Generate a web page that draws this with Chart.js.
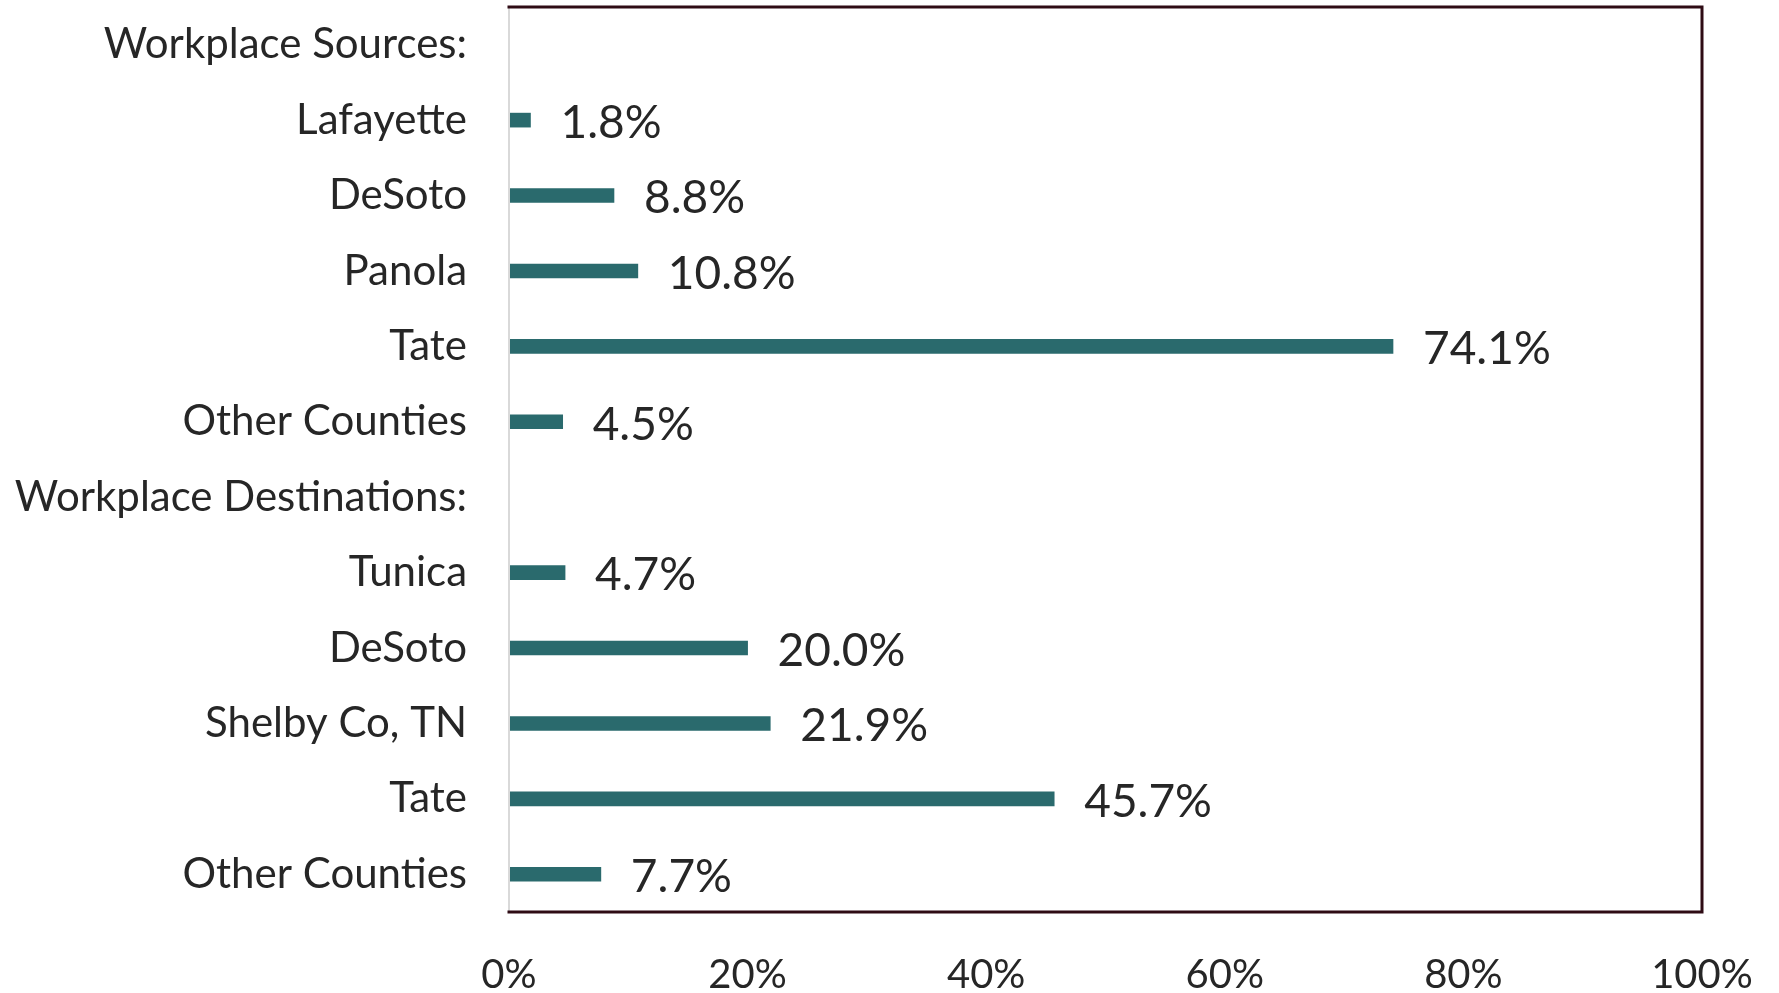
<!DOCTYPE html>
<html>
<head>
<meta charset="utf-8">
<script src="https://cdn.jsdelivr.net/npm/chart.js@4"></script>
<style>
  html, body { margin: 0; padding: 0; background: #fff; }
  #wrap { width: 1779px; height: 993px; }
</style>
</head>
<body>
<div id="wrap"><canvas id="myChart"></canvas></div>
<script>
var labels = [
  "Workplace Sources:",
  "Lafayette",
  "DeSoto",
  "Panola",
  "Tate",
  "Other Counties",
  "Workplace Destinations:",
  "Tunica",
  "DeSoto",
  "Shelby Co, TN",
  "Tate",
  "Other Counties"
];
var shares = [null, 1.8, 8.8, 10.8, 74.1, 4.5, null, 4.7, 20.0, 21.9, 45.7, 7.7];
var xTicks = [0, 20, 40, 60, 80, 100];

var frame = {
  id: "frame",
  afterDatasetsDraw: function (chart) {
    var a = chart.chartArea, c = chart.ctx;
    c.save();
    c.lineCap = "square";
    c.strokeStyle = "#d9d9d9";
    c.lineWidth = 2;
    c.beginPath();
    c.moveTo(a.left, a.top + 2);
    c.lineTo(a.left, a.bottom - 2);
    c.stroke();
    c.strokeStyle = "#2e0b14";
    c.lineWidth = 3;
    c.beginPath();
    c.moveTo(a.left, a.top);
    c.lineTo(a.right, a.top);
    c.lineTo(a.right, a.bottom);
    c.lineTo(a.left, a.bottom);
    c.stroke();
    c.restore();
  }
};

var valueLabels = {
  id: "valueLabels",
  afterDatasetsDraw: function (chart) {
    var c = chart.ctx;
    var meta = chart.getDatasetMeta(0);
    c.save();
    c.font = "46px Lato";
    c.fillStyle = "#262626";
    c.textAlign = "left";
    c.textBaseline = "middle";
    meta.data.forEach(function (bar, i) {
      var v = shares[i];
      if (v === null) return;
      c.fillText(v.toFixed(1) + "%", bar.x + 30, bar.y + 3);
    });
    c.restore();
  }
};

var ctx = document.getElementById("myChart").getContext("2d");
var myChart = new Chart(ctx, {
  type: "bar",
  data: {
    labels: labels,
    datasets: [
      {
        data: shares,
        backgroundColor: "#2a6a6d",
        barThickness: 14
      }
    ]
  },
  plugins: [frame, valueLabels],
  options: {
    indexAxis: "y",
    responsive: true,
    maintainAspectRatio: false,
    animation: false,
    layout: {
      padding: { top: 7, right: 77, bottom: 0, left: 0 }
    },
    plugins: {
      legend: { display: false },
      tooltip: { enabled: false }
    },
    scales: {
      x: {
        min: 0,
        max: 100,
        afterBuildTicks: function (scale) {
          scale.ticks = xTicks.map(function (v) { return { value: v }; });
        },
        afterFit: function (scale) {
          scale.height = 81;
          scale.paddingLeft = 0;
          scale.paddingRight = 0;
        },
        grid: { display: false },
        border: { display: false },
        ticks: {
          padding: 31,
          color: "#262626",
          font: { family: "Lato", size: 40 },
          callback: function (v) { return v + "%"; }
        }
      },
      y: {
        afterFit: function (scale) {
          scale.width = 509;
          scale.paddingTop = 0;
          scale.paddingBottom = 0;
        },
        grid: { display: false },
        border: { display: false },
        ticks: {
          padding: 34,
          color: "#262626",
          font: { family: "Lato", size: 42 }
        }
      }
    }
  }
});
</script>
</body>
</html>
